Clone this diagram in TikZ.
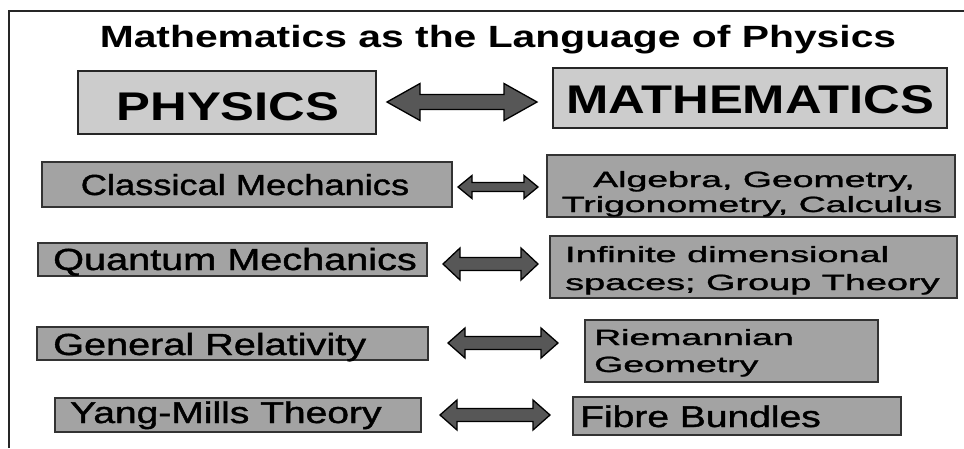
\documentclass[tikz,border=0pt]{standalone}
\usepackage{fontspec}
\setmainfont{Liberation Sans}
\newfontfamily\heavyfont[FakeBold=1.2]{Liberation Sans}
\usepackage{graphicx}
\newcommand{\hs}[2]{\scalebox{#1}[1]{#2}}
% fat double arrow: x1, x2, y, shaft half, head half, head length
\newcommand{\fatarrow}[6]{%
  \path[fatarrowstyle] (#1,#3) -- ({#1+#6},{#3-#5}) -- ({#1+#6},{#3-#4}) -- ({#2-#6},{#3-#4})
    -- ({#2-#6},{#3-#5}) -- (#2,#3) -- ({#2-#6},{#3+#5}) -- ({#2-#6},{#3+#4})
    -- ({#1+#6},{#3+#4}) -- ({#1+#6},{#3+#5}) -- cycle;}
\begin{document}
\begin{tikzpicture}[x=1pt,y=-1pt,
  topbox/.style={draw=black!85, line width=1.6pt, fill=black!20, inner sep=0pt},
  lowbox/.style={draw=black!80, line width=1.2pt, fill=black!36, inner sep=0pt},
  fatarrowstyle/.style={draw=black, line width=1.3pt, fill=black!66, line join=miter},
  titletxt/.style={font=\fontsize{30.7}{34}\selectfont\bfseries, inner sep=0pt},
  bigtxt/.style={font=\fontsize{40}{44}\selectfont\bfseries, inner sep=0pt},
  midtxt/.style={font=\heavyfont\fontsize{30.5}{34}\selectfont, inner sep=0pt},
  smalltxt/.style={font=\heavyfont\fontsize{22}{26}\selectfont, inner sep=0pt}]
\useasboundingbox (0,0) rectangle (964,448);
\fill[white] (0,0) rectangle (964,448);
\draw[line width=2pt, black!85] (9,448) -- (9,11) -- (964,11);

\node[titletxt, anchor=base] (title) at (498,47) {\hs{1.33}{Mathematics as the Language of Physics}};

% boxes
\node[topbox, minimum width=298pt, minimum height=63pt] (phys) at (227,102.5) {};
\node[topbox, minimum width=394pt, minimum height=60pt] (math) at (750,98) {};
\node[lowbox, minimum width=410pt, minimum height=45pt] (cm) at (247,184.5) {};
\node[lowbox, minimum width=408pt, minimum height=62pt] (alg) at (751,186) {};
\node[lowbox, minimum width=389pt, minimum height=33pt] (qm) at (232.5,259.5) {};
\node[lowbox, minimum width=407pt, minimum height=62pt] (inf) at (753.5,267) {};
\node[lowbox, minimum width=391pt, minimum height=33pt] (gr) at (232.5,343.5) {};
\node[lowbox, minimum width=293pt, minimum height=62pt] (rie) at (731.5,351) {};
\node[lowbox, minimum width=366pt, minimum height=34pt] (ym) at (238,415) {};
\node[lowbox, minimum width=328pt, minimum height=38pt] (fib) at (737,416) {};

% texts
\node[bigtxt, anchor=base] (physT) at (228,120) {\hs{1.27}{PHYSICS}};
\node[bigtxt, anchor=base] (mathT) at (750,113) {\hs{1.27}{MATHEMATICS}};
\node[midtxt, anchor=base, font=\heavyfont\fontsize{29}{32}\selectfont] (cmT) at (245,195) {\hs{1.25}{Classical Mechanics}};
\node[smalltxt, anchor=base] (algA) at (754,187) {\hs{1.7}{Algebra, Geometry,}};
\node[smalltxt, anchor=base] (algB) at (752,212) {\hs{1.7}{Trigonometry, Calculus}};
\node[midtxt, anchor=base] (qmT) at (235,270) {\hs{1.3}{Quantum Mechanics}};
\node[smalltxt, anchor=base west] (infA) at (565,262) {\hs{1.72}{Infinite dimensional}};
\node[smalltxt, anchor=base west] (infB) at (565,290) {\hs{1.72}{spaces; Group Theory}};
\node[midtxt, anchor=base west] (grT) at (53,355) {\hs{1.3}{General Relativity}};
\node[smalltxt, anchor=base west] (rieA) at (594,345) {\hs{1.7}{Riemannian}};
\node[smalltxt, anchor=base west] (rieB) at (594,372) {\hs{1.7}{Geometry}};
\node[midtxt, anchor=base west, font=\heavyfont\fontsize{30}{33}\selectfont] (ymT) at (70,423) {\hs{1.3}{Yang-Mills Theory}};
\node[midtxt, anchor=base west, font=\heavyfont\fontsize{30}{33}\selectfont] (fibT) at (580,427) {\hs{1.3}{Fibre Bundles}};

% arrows
\fatarrow{387}{537}{102}{7.5}{18.5}{33}
\fatarrow{458}{538}{187}{4.5}{11.5}{14}
\fatarrow{443}{538}{264}{6.5}{16}{17}
\fatarrow{448}{558}{343}{6.5}{15}{17}
\fatarrow{440}{550}{415}{6.5}{15}{17}
\end{tikzpicture}
\end{document}
